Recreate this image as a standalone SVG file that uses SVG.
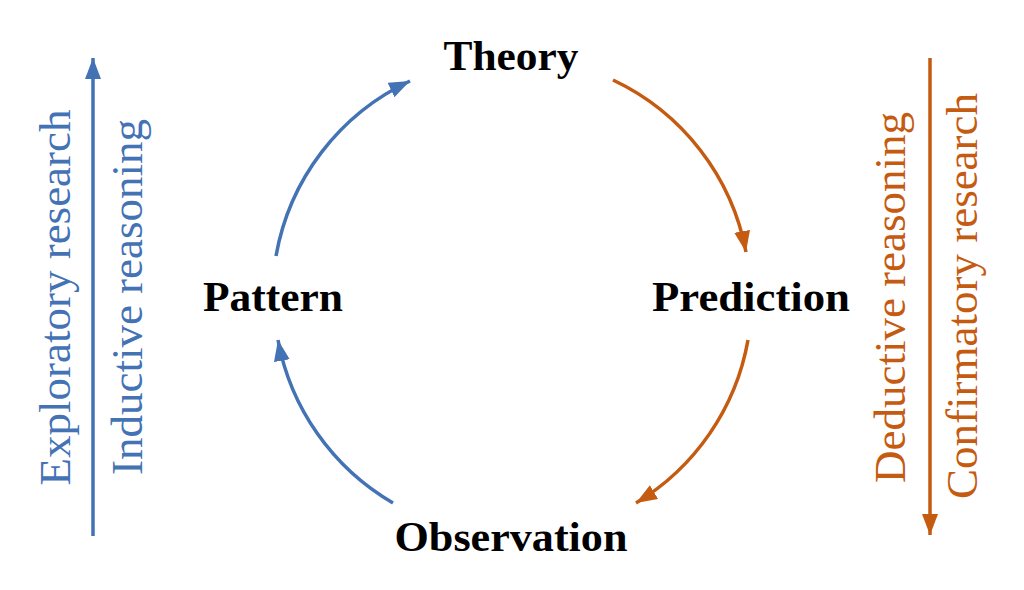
<svg xmlns="http://www.w3.org/2000/svg" width="1024" height="590" viewBox="0 0 1024 590">
<style>
.node{font-family:"Liberation Serif",serif;font-weight:bold;font-size:42px;fill:#000;text-anchor:middle}
.side{font-family:"Liberation Serif",serif;font-size:45px;text-anchor:middle}
.blue{fill:#4372B5}
.orange{fill:#C55A11}
.cb{fill:none;stroke:#4372B5;stroke-width:3.5}
.co{fill:none;stroke:#C55A11;stroke-width:3.5}
</style>
<defs>
<marker id="ab" markerUnits="userSpaceOnUse" markerWidth="24" markerHeight="18" refX="21" refY="8" orient="auto"><path d="M0,0 L21,8 L0,16 Z" fill="#4372B5"/></marker>
<marker id="ao" markerUnits="userSpaceOnUse" markerWidth="24" markerHeight="18" refX="21" refY="8" orient="auto"><path d="M0,0 L21,8 L0,16 Z" fill="#C55A11"/></marker>
</defs>
<rect width="1024" height="590" fill="#fff"/>
<g id="connectors">
<path class="cb" d="M276,256 A239,239 0 0 1 410,81" marker-end="url(#ab)"/>
<path class="co" d="M613,80 A239,239 0 0 1 746,252" marker-end="url(#ao)"/>
<path class="co" d="M748,340 A239,239 0 0 1 636,503" marker-end="url(#ao)"/>
<path class="cb" d="M393,503 A239,239 0 0 1 278,340" marker-end="url(#ab)"/>
<path class="cb" d="M93,536 L93,58" marker-end="url(#ab)"/>
<path class="co" d="M930,58 L930,535" marker-end="url(#ao)"/>
</g>
<g id="theory"><text class="node" x="511" y="70" textLength="135" lengthAdjust="spacingAndGlyphs">Theory</text></g>
<g id="prediction"><text class="node" x="751" y="311" textLength="198" lengthAdjust="spacingAndGlyphs">Prediction</text></g>
<g id="observation"><text class="node" x="511" y="551" textLength="233" lengthAdjust="spacingAndGlyphs">Observation</text></g>
<g id="pattern"><text class="node" x="273" y="311" textLength="140" lengthAdjust="spacingAndGlyphs">Pattern</text></g>
<g id="left-labels">
<text class="side blue" transform="translate(70,297.5) rotate(-90)">Exploratory research</text>
<text class="side blue" transform="translate(142,297) rotate(-90)">Inductive reasoning</text>
</g>
<g id="right-labels">
<text class="side orange" transform="translate(905,297.5) rotate(-90)">Deductive reasoning</text>
<text class="side orange" transform="translate(977,296) rotate(-90)">Confirmatory research</text>
</g>
</svg>
